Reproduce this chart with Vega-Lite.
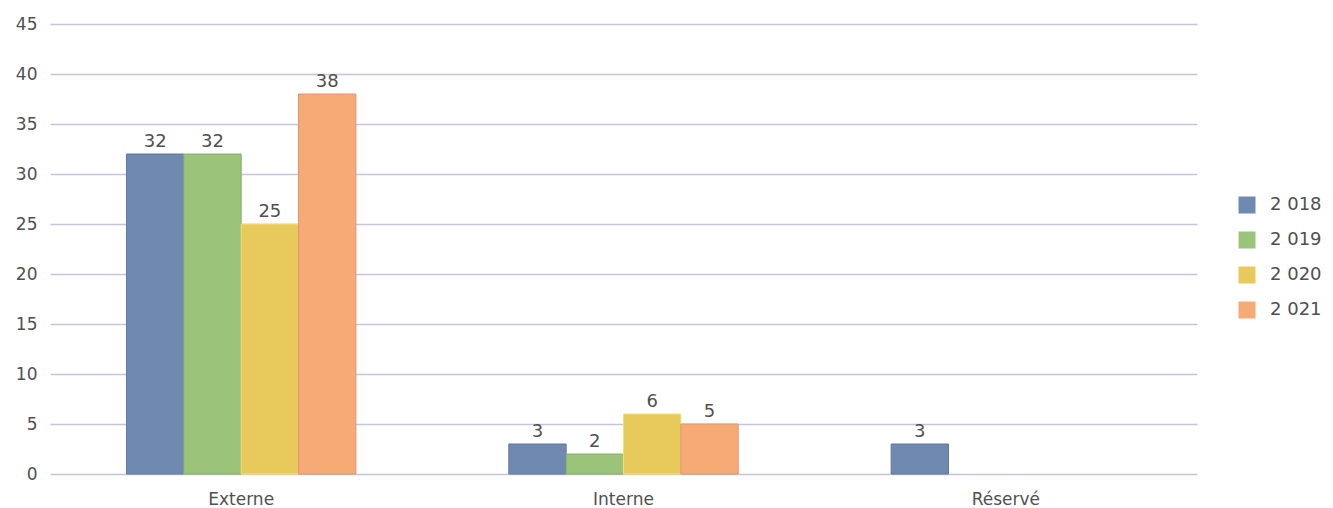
{
  "$schema": "https://vega.github.io/schema/vega-lite/v6.json",
  "width": 1147,
  "height": 450,
  "autosize": {"type": "none"},
  "padding": {"left": 50, "top": 24, "right": 136, "bottom": 34},
  "background": "white",
  "config": {
    "view": {"stroke": null},
    "font": "DejaVu Sans",
    "axis": {"labelFont": "DejaVu Sans", "labelFontSize": 17, "labelColor": "#505050"},
    "legend": {"labelFont": "DejaVu Sans", "labelFontSize": 18, "labelColor": "#505050"}
  },
  "data": {
    "values": [
      {"cat": "Externe", "year": "2 018", "value": 32},
      {"cat": "Externe", "year": "2 019", "value": 32},
      {"cat": "Externe", "year": "2 020", "value": 25},
      {"cat": "Externe", "year": "2 021", "value": 38},
      {"cat": "Interne", "year": "2 018", "value": 3},
      {"cat": "Interne", "year": "2 019", "value": 2},
      {"cat": "Interne", "year": "2 020", "value": 6},
      {"cat": "Interne", "year": "2 021", "value": 5},
      {"cat": "Réservé", "year": "2 018", "value": 3}
    ]
  },
  "encoding": {
    "x": {
      "field": "cat", "type": "nominal", "sort": ["Externe", "Interne", "Réservé"],
      "scale": {"paddingInner": 0.4, "paddingOuter": 0.2},
      "axis": {"title": null, "labelAngle": 0, "domain": false, "ticks": false, "labelPadding": 17, "grid": false}
    },
    "xOffset": {
      "field": "year", "type": "nominal",
      "scale": {"domain": ["2 018", "2 019", "2 020", "2 021"], "paddingInner": 0, "paddingOuter": 0}
    },
    "y": {
      "field": "value", "type": "quantitative",
      "scale": {"domain": [0, 45], "nice": false},
      "axis": {"title": null, "values": [0,5,10,15,20,25,30,35,40,45], "domain": false, "ticks": false, "labelPadding": 13, "grid": true, "gridColor": "#c4c4dc", "gridWidth": 1.5}
    }
  },
  "layer": [
    {
      "mark": {"type": "bar", "strokeWidth": 1},
      "encoding": {
        "color": {
          "field": "year", "type": "nominal",
          "scale": {"domain": ["2 018", "2 019", "2 020", "2 021"], "range": ["#7089b0", "#9bc47a", "#e8ca5c", "#f6aa76"]},
          "legend": {"title": null, "orient": "none", "legendX": 1188, "legendY": 172, "symbolType": "square", "symbolSize": 289, "symbolStrokeWidth": 0, "rowPadding": 17, "labelOffset": 14}
        },
        "stroke": {
          "field": "year", "type": "nominal",
          "scale": {"domain": ["2 018", "2 019", "2 020", "2 021"], "range": ["#5f789e", "#86b066", "#f2e070", "#e0956a"]},
          "legend": null
        }
      }
    },
    {
      "mark": {"type": "text", "baseline": "bottom", "dy": -3, "fontSize": 18, "color": "#505050"},
      "encoding": {"text": {"field": "value", "type": "quantitative"}}
    }
  ]
}
